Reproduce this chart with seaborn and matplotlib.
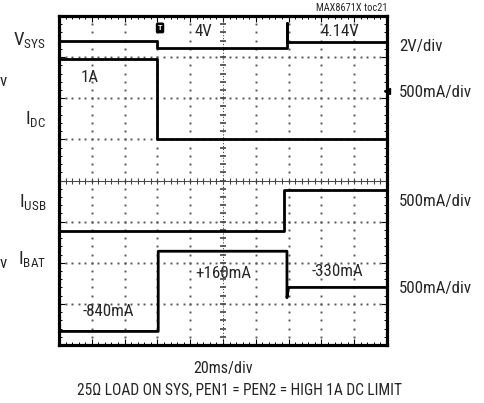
import numpy as np
import pandas as pd
import matplotlib
matplotlib.use("Agg")
import matplotlib.pyplot as plt
from matplotlib import font_manager as fm
import seaborn as sns

# ---- data (time in ms, 20 ms/div; levels in screen divisions, centre line = 0) ----
vsys_t = [0, 60, 60, 139, 139, 139, 200]
vsys_v = [3.38, 3.38, 3.23, 3.23, 3.84, 3.36, 3.36]
idc_t = [0, 60, 60, 200]
idc_v = [2.95, 2.95, 1.00, 1.00]
iusb_t = [0, 137, 137, 200]
iusb_v = [-1.22, -1.22, -0.23, -0.23]
ibat_t = [0, 60.5, 60.5, 139, 139, 140, 200]
ibat_v = [-3.67, -3.67, -1.72, -1.72, -2.85, -2.60, -2.60]

channel_names = [r"$\mathregular{V_{SYS}}$", r"$\mathregular{I_{DC}}$",
                 r"$\mathregular{I_{USB}}$", r"$\mathregular{I_{BAT}}$"]
channel_scales = ["2V/div", "500mA/div", "500mA/div", "500mA/div"]
level_notes = ["4V", "4.14V", "1A", "+160mA", "-330mA", "-840mA"]
time_scale = "20ms/div"
caption = "25Ω LOAD ON SYS, PEN1 = PEN2 = HIGH 1A DC LIMIT"
figure_id = "MAX8671X toc21"

sns.set_theme(style="white")
available = {f.name for f in fm.fontManager.ttflist}
wanted = ["Roboto Condensed", "Liberation Sans Narrow", "Arial Narrow",
          "Fira Sans Condensed", "Sofia Sans Condensed", "Liberation Sans", "DejaVu Sans"]
fams = [f for f in wanted if f in available] + ["DejaVu Sans"]
plt.rcParams["font.family"] = fams
plt.rcParams["mathtext.fontset"] = "custom"
plt.rcParams["mathtext.rm"] = fams[0]

W, H = 485, 403
fig = plt.figure(figsize=(W / 100, H / 100), dpi=100)
L, R, T, B = 59, 387, 16, 345
ax = fig.add_axes([L / W, 1 - B / H, (R - L) / W, (B - T) / H])

def px(x, y):
    return x / W, 1 - y / H

frames = []
for name, t, v in [("vsys", vsys_t, vsys_v), ("idc", idc_t, idc_v),
                   ("iusb", iusb_t, iusb_v), ("ibat", ibat_t, ibat_v)]:
    frames.append(pd.DataFrame({"t": t, "v": v, "trace": name}))
df = pd.concat(frames, ignore_index=True)

ax.set_xlim(0, 200)
ax.set_ylim(-4, 4)

# dotted graticule
dot_c = "#555555"
for gx in range(20, 200, 20):
    if gx == 100:
        continue
    ys = np.arange(-4, 4.001, 0.2)
    ax.plot(np.full_like(ys, gx), ys, ls="none", marker="s", ms=1.4, color=dot_c, mew=0)
for gy in range(-3, 4):
    if gy == 0:
        continue
    xs = np.arange(0, 200.001, 4)
    ax.plot(xs, np.full_like(xs, gy, dtype=float), ls="none", marker="s", ms=1.4, color=dot_c, mew=0)
# centre lines with ticks
ax.axhline(0, color="#444444", lw=0.7, zorder=1)
ax.axvline(100, color="#444444", lw=0.7, ls=(0, (1.2, 1.8)), zorder=1)
xs = np.arange(0, 200.001, 4)
ax.plot(xs, np.zeros_like(xs), ls="none", marker="|", ms=5, mew=0.8, color="#444444")
ys = np.arange(-4, 4.001, 0.2)
ax.plot(np.full_like(ys, 100), ys, ls="none", marker="_", ms=5, mew=1.2, color="#444444")

sns.lineplot(data=df, x="t", y="v", units="trace", estimator=None, sort=False,
             color="black", lw=2.0, ax=ax, legend=False)

# trigger marker and ground marker
ax.text(61.6, 3.71, "T", color="white", fontsize=6, fontweight="bold", ha="center", va="center",
        bbox=dict(boxstyle="round,pad=0.15", fc="black", ec="black"), zorder=5)
ax.plot([200], [2.18], marker="<", ms=4, color="black", clip_on=False, zorder=6)

ax.set_xticks(np.arange(0, 201, 20))
ax.set_yticks(np.arange(-4, 5, 1))
ax.set_xticks(np.arange(0, 201, 4), minor=True)
ax.set_yticks(np.arange(-4, 4.01, 0.2), minor=True)
ax.tick_params(which="both", direction="in", top=True, right=True, bottom=True, left=True,
               labelbottom=False, labelleft=False, color="black")
ax.tick_params(which="major", length=4, width=0.8)
ax.tick_params(which="minor", length=2.5, width=0.7)
ax.set_xlabel("")
ax.set_ylabel("")
for s in ax.spines.values():
    s.set_linewidth(2.3)
    s.set_color("black")

fs = 12.2
# channel labels (left)
for name, y in zip(channel_names, [40, 119, 202, 259]):
    fig.text(*px(46, y), name, fontsize=13.5, ha="right", va="center")
# fragments at left edge
for y in [81, 264]:
    fig.text(*px(0, y), "v", fontsize=fs, ha="left", va="center")
# scale labels (right)
for s, y in zip(channel_scales, [47, 92, 202, 288]):
    fig.text(*px(399, y), s, fontsize=fs, ha="left", va="center")
# level notes
for s, (x, y) in zip(level_notes, [(203, 31), (340, 31), (90, 78), (223, 274), (337, 272), (108, 311)]):
    fig.text(*px(x, y), s, fontsize=fs, ha="center", va="center")

fig.text(*px(387, 8), figure_id, fontsize=7.5, ha="right", va="center")
fig.text(*px(223, 368), time_scale, fontsize=11.5, ha="center", va="center")
fig.text(*px(240, 390), caption, fontsize=11.2, ha="center", va="center")

fig.savefig("out.png", dpi=100, facecolor="white")
